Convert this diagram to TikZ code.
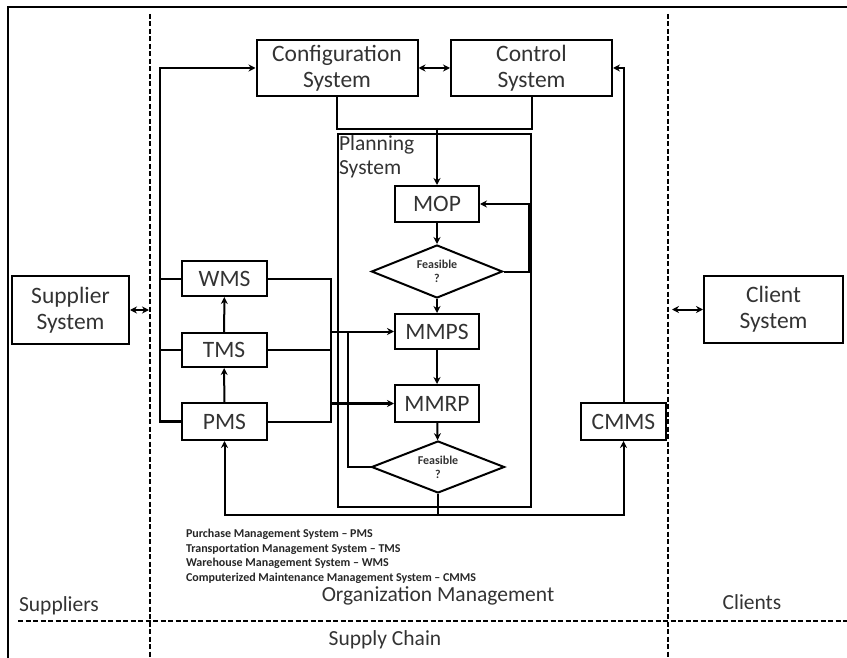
\documentclass[tikz,border=0pt]{standalone}
\usepackage{fontspec}
\setmainfont{Carlito}
\usetikzlibrary{arrows.meta,shapes.geometric}

\begin{document}
\begin{tikzpicture}[x=1pt,y=-1pt,line width=2pt,>={Stealth[length=7pt,width=7pt]},
  box/.style={draw,inner sep=0pt,align=center,text=black!80,font=\fontsize{23.5}{26}\selectfont},
  feas/.style={draw,diamond,inner sep=-10pt,align=center,text=black!80,font=\fontsize{12}{14}\selectfont\bfseries},
  lbl/.style={text=black!80,font=\fontsize{21.5}{24}\selectfont}]
  \useasboundingbox (0,0) rectangle (847,658);
  % frame and zones
  \draw[line width=2.5pt] (8,658) -- (8,7) -- (847,7);
  \draw[dash pattern=on 5pt off 2.5pt,line width=2pt] (150,14) -- (150,658);
  \draw[dash pattern=on 5pt off 2.5pt,line width=2pt] (668,14) -- (668,658);
  \draw[dash pattern=on 5pt off 2.5pt,line width=2pt] (18,621) -- (847,621);
  \coordinate (dl) at (149,0);
  \coordinate (dr) at (672,0);

  % boxes
  \node[box,minimum width=161pt,minimum height=56pt] (conf) at (337,68) {Configuration\\System};
  \node[box,minimum width=161pt,minimum height=56pt] (ctrl) at (531.5,68) {Control\\System};
  \node[draw,line width=1.8pt,minimum width=193pt,minimum height=373pt] (plan) at (434.5,320.5) {};
  \node[lbl,anchor=north west,align=left,inner sep=1pt] (planlbl) at (plan.north west) {Planning\\System};
  \node[box,minimum width=84pt,minimum height=36pt] (mop) at (437,204) {MOP};
  \node[feas,minimum width=131pt,minimum height=53pt] (feas1) at (437,271.5) {Feasible\\?};
  \node[box,minimum width=84pt,minimum height=35pt] (mmps) at (437,331.5) {MMPS};
  \node[box,minimum width=84pt,minimum height=37pt] (mmrp) at (437,403.5) {MMRP};
  \node[feas,minimum width=133pt,minimum height=52pt] (feas2) at (438,467) {Feasible\\?};
  \node[box,minimum width=85pt,minimum height=35pt] (wms) at (224.5,278.5) {WMS};
  \node[box,minimum width=85pt,minimum height=34pt] (tms) at (224,350) {TMS};
  \node[box,minimum width=85pt,minimum height=37pt] (pms) at (224.5,421.5) {PMS};
  \node[box,minimum width=85pt,minimum height=37pt] (cmms) at (623.5,421.5) {CMMS};
  \node[box,minimum width=117pt,minimum height=68pt] (supp) at (70.5,310) {Supplier\\System};
  \node[box,minimum width=139pt,minimum height=67pt] (client) at (773.5,309.5) {Client\\System};

  % connectors
  \draw[<->] (conf) -- (ctrl);
  \draw (conf.south) -- ++(0,32) -| (ctrl.south);
  \draw[->] (mop.north |- 0,128) -- (mop.north);
  \draw[->] (mop) -- (feas1);
  \draw[->] (feas1.east) -- ++(25,0) |- (mop.east);
  \draw[->] (feas1) -- (mmps);
  \draw[->] (mmps) -- (mmrp);
  \draw[->] (mmrp) -- (feas2);
  \draw[->] (pms) -- (tms);
  \draw[->] (tms) -- (wms);
  \draw[->,line width=2.8pt] (pms.west) -- ++(-21,0) |- (conf.west);
  \draw (wms.west) -- ++(-21,0);
  \draw (tms.west) -- ++(-21,0);
  \coordinate (rb) at (331,0);
  \coordinate (fb) at (348,0);
  \draw (wms.east) -| (wms.east -| rb) |- (pms.east);
  \draw (tms.east) -- (tms.east -| rb);
  \draw[->] (mmps.west -| rb) -- (mmps.west);
  \draw[->,line width=2.8pt] (mmrp.west -| rb) -- (mmrp.west);
  \draw (feas2.west) -| (mmps.west -| fb);
  \coordinate (bb) at (0,515);
  \draw[->] (feas2.south) |- (pms.south |- bb) -- (pms.south);
  \draw[->] (feas2.south |- bb) -| (cmms.south);
  \draw[->] (cmms.north) |- (ctrl.east);
  \draw[<->] (supp.east) -- (supp.east -| dl);
  \draw[<->] (client.west -| dr) -- (client.west);

  % labels
  \node[anchor=north west,align=left,inner sep=0pt,text=black!85,font=\fontsize{12}{14.7}\selectfont\bfseries] (legend) at (185,528)
    {Purchase Management System -- PMS\\Transportation Management System -- TMS\\Warehouse Management System -- WMS\\Computerized Maintenance Management System -- CMMS};
  \node[lbl] (orgm) at (438,596) {Organization Management};
  \node[lbl] (suppl) at (59,606) {Suppliers};
  \node[lbl] (clients) at (752,602) {Clients};
  \node[lbl] (chain) at (385,640) {Supply Chain};
\end{tikzpicture}
\end{document}
